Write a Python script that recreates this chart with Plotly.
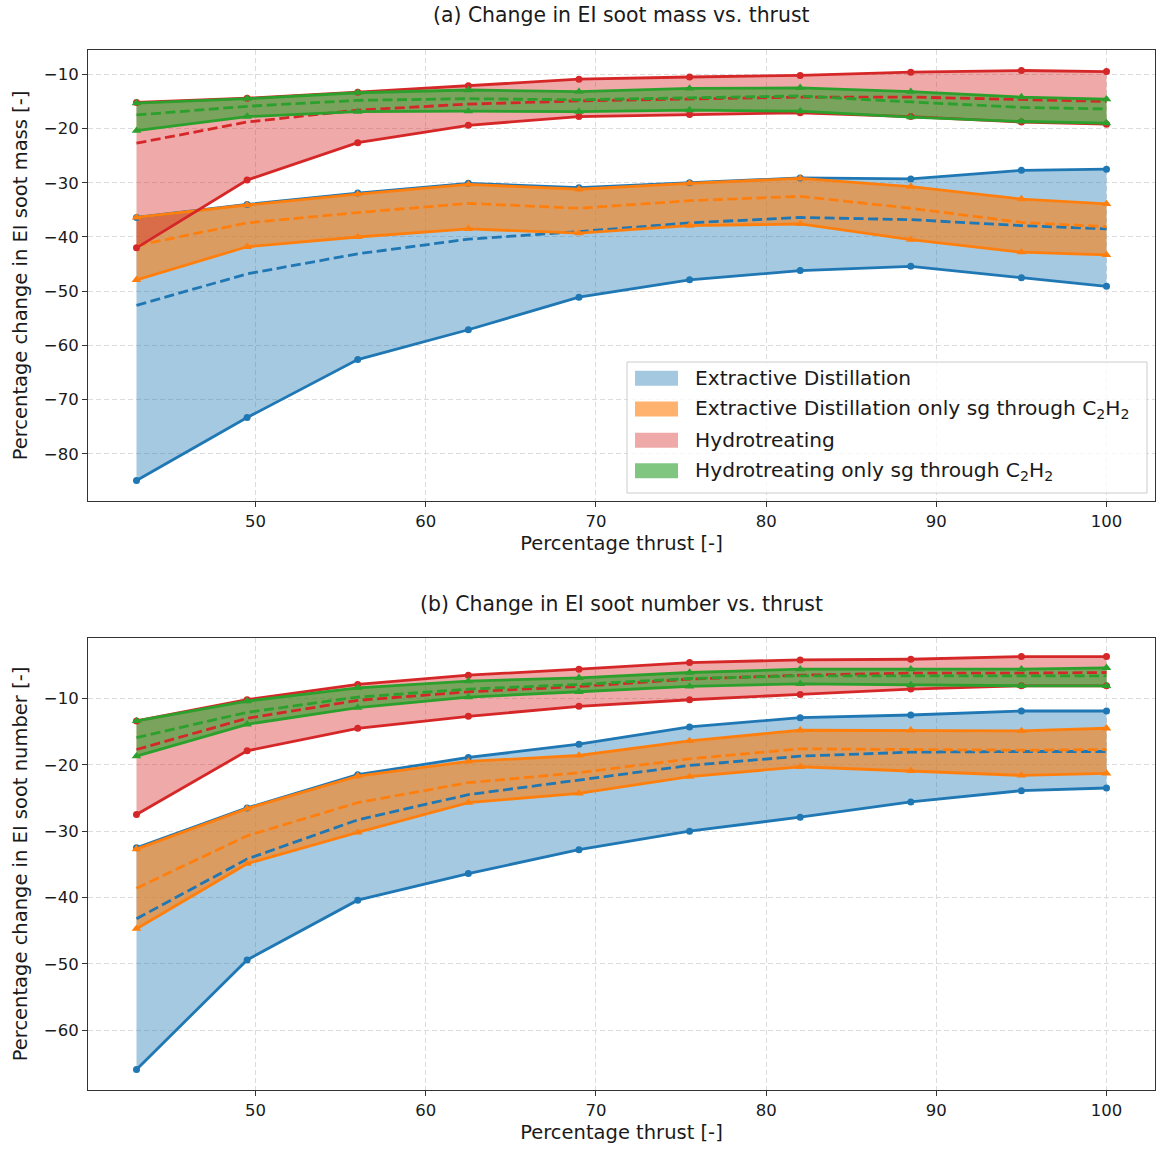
import plotly.graph_objects as go
from plotly.subplots import make_subplots

# ---------------- data ----------------
thrust = [43, 49.5, 56, 62.5, 69, 75.5, 82, 88.5, 95, 100]

# (a) EI soot mass change [%]
ed_mass_max = [-36.4, -34.0, -31.9, -30.1, -30.9, -30.0, -29.1, -29.3, -27.7, -27.5]
ed_mass_mean = [-52.6, -46.8, -43.1, -40.4, -39.0, -37.4, -36.4, -36.8, -37.9, -38.5]
ed_mass_min = [-84.9, -73.3, -62.6, -57.1, -51.1, -47.9, -46.2, -45.4, -47.5, -49.1]

edc_mass_max = [-36.4, -34.1, -32.1, -30.3, -31.2, -30.1, -29.2, -30.7, -33.0, -33.9]
edc_mass_mean = [-41.6, -37.4, -35.5, -33.8, -34.7, -33.3, -32.5, -34.7, -37.3, -38.1]
edc_mass_min = [-47.9, -41.8, -40.0, -38.5, -39.3, -37.9, -37.6, -40.5, -42.8, -43.3]

ht_mass_max = [-15.2, -14.4, -13.3, -12.1, -10.9, -10.5, -10.2, -9.6, -9.3, -9.5]
ht_mass_mean = [-22.7, -18.8, -16.6, -15.5, -14.9, -14.5, -14.2, -14.2, -14.7, -15.0]
ht_mass_min = [-42.0, -29.5, -22.6, -19.4, -17.8, -17.4, -17.1, -17.8, -18.8, -19.2]

htc_mass_max = [-15.3, -14.5, -13.4, -12.9, -13.2, -12.6, -12.5, -13.2, -14.2, -14.6]
htc_mass_mean = [-17.5, -15.9, -14.8, -14.5, -14.7, -14.3, -14.0, -15.1, -16.1, -16.4]
htc_mass_min = [-20.4, -17.8, -16.9, -16.8, -16.9, -16.6, -16.8, -17.9, -18.7, -19.0]

# (b) EI soot number change [%]
ed_num_max = [-32.5, -26.5, -21.5, -18.9, -16.9, -14.3, -12.9, -12.5, -11.9, -11.9]
ed_num_mean = [-43.2, -34.2, -28.3, -24.5, -22.3, -20.1, -18.7, -18.1, -18.0, -18.0]
ed_num_min = [-65.9, -49.4, -40.4, -36.4, -32.8, -30.0, -27.9, -25.6, -23.9, -23.5]

edc_num_max = [-32.7, -26.6, -21.7, -19.5, -18.6, -16.4, -14.8, -14.8, -14.9, -14.5]
edc_num_mean = [-38.6, -30.7, -25.7, -22.7, -21.2, -19.1, -17.6, -17.7, -17.8, -17.7]
edc_num_min = [-44.7, -34.9, -30.2, -25.7, -24.3, -21.8, -20.3, -20.9, -21.6, -21.3]

ht_num_max = [-13.4, -10.2, -7.9, -6.5, -5.6, -4.6, -4.2, -4.1, -3.7, -3.7]
ht_num_mean = [-17.7, -13.0, -10.3, -9.0, -8.2, -7.1, -6.5, -6.2, -6.2, -6.1]
ht_num_min = [-27.5, -17.9, -14.5, -12.7, -11.2, -10.2, -9.4, -8.6, -8.1, -8.1]

htc_num_max = [-13.4, -10.4, -8.4, -7.4, -6.9, -6.1, -5.6, -5.6, -5.6, -5.4]
htc_num_mean = [-15.9, -12.1, -9.8, -8.6, -7.9, -7.0, -6.6, -6.6, -6.6, -6.6]
htc_num_min = [-18.7, -13.9, -11.4, -9.8, -9.0, -8.2, -7.8, -8.0, -8.1, -8.1]

series_labels = [
    "Extractive Distillation",
    "Extractive Distillation only sg through C<sub>2</sub>H<sub>2</sub>",
    "Hydrotreating",
    "Hydrotreating only sg through C<sub>2</sub>H<sub>2</sub>",
]
x_ticks = [50, 60, 70, 80, 90, 100]
mass_ticks = [-10, -20, -30, -40, -50, -60, -70, -80]
num_ticks = [-10, -20, -30, -40, -50, -60]

# ---------------- styles ----------------
line_colors = ["#1f77b4", "#ff7f0e", "#d62728", "#2ca02c"]
fill_colors = ["rgba(31,119,180,0.4)", "rgba(255,127,14,0.6)",
               "rgba(214,39,40,0.4)", "rgba(44,160,44,0.6)"]
legend_patch = ["#a5c8e1", "#ffb26e", "#efa9a9", "#80c680"]
symbols = ["circle", "triangle-up", "circle", "triangle-up"]
msizes = [7, 8.5, 7, 8.5]
FONT = "DejaVu Sans"
LW = 2.8

mass_groups = [
    (ed_mass_max, ed_mass_mean, ed_mass_min),
    (edc_mass_max, edc_mass_mean, edc_mass_min),
    (ht_mass_max, ht_mass_mean, ht_mass_min),
    (htc_mass_max, htc_mass_mean, htc_mass_min),
]
num_groups = [
    (ed_num_max, ed_num_mean, ed_num_min),
    (edc_num_max, edc_num_mean, edc_num_min),
    (ht_num_max, ht_num_mean, ht_num_min),
    (htc_num_max, htc_num_mean, htc_num_min),
]

fig = make_subplots(rows=2, cols=1)


def add_fill(row, i, upper, lower):
    fig.add_trace(go.Scatter(
        x=list(thrust) + list(thrust)[::-1],
        y=list(upper) + list(lower)[::-1],
        fill="toself", fillcolor=fill_colors[i], mode="lines",
        line=dict(width=0), hoverinfo="skip", showlegend=False),
        row=row, col=1)


def add_lines(row, i, upper, mean, lower):
    for arr in (upper, lower):
        fig.add_trace(go.Scatter(
            x=thrust, y=arr, mode="lines+markers",
            line=dict(color=line_colors[i], width=LW),
            marker=dict(symbol=symbols[i], size=msizes[i], color=line_colors[i],
                        line=dict(width=0)),
            showlegend=False), row=row, col=1)
    fig.add_trace(go.Scatter(
        x=thrust, y=mean, mode="lines",
        line=dict(color=line_colors[i], width=LW, dash="10px,4.5px"),
        showlegend=False), row=row, col=1)


for row, groups in ((1, mass_groups), (2, num_groups)):
    for i, (u, m, l) in enumerate(groups):
        add_fill(row, i, u, l)
    for i, (u, m, l) in enumerate(groups):
        add_lines(row, i, u, m, l)

# ---------------- axes ----------------
W, H = 1156, 1152
ML, MR, MT, MB = 88, 1, 50, 62
PH = H - MT - MB  # 1040
ya_dom = [1 - 451 / PH, 1.0]
yb_dom = [0.0, 1 - 588 / PH]

axis_common = dict(
    showline=True, linecolor="#333", linewidth=1, mirror=True,
    ticks="outside", ticklen=5, tickwidth=1, tickcolor="#333",
    showgrid=True, gridcolor="#dcdcdc", gridwidth=1, griddash="5px,3px",
    zeroline=False, tickfont=dict(family=FONT, size=16.5, color="#1a1a1a"),
)

xrange_ = [40.15, 102.85]
fig.update_xaxes(**axis_common, range=xrange_, tickvals=x_ticks,
                 title=dict(text="Percentage thrust [-]",
                            font=dict(family=FONT, size=19.5, color="#1a1a1a"),
                            standoff=6))
fig.update_yaxes(**axis_common)
fig.update_layout(
    yaxis=dict(domain=ya_dom, range=[-88.68, -5.52], tickvals=mass_ticks,
               title=dict(text="Percentage change in EI soot mass [-]",
                          font=dict(family=FONT, size=19.5, color="#1a1a1a"),
                          standoff=11)),
    yaxis2=dict(domain=yb_dom, range=[-69.0, -0.9], tickvals=num_ticks,
                title=dict(text="Percentage change in EI soot number [-]",
                           font=dict(family=FONT, size=19.5, color="#1a1a1a"),
                           standoff=11)),
)

# ---------------- titles ----------------
annotations = [
    dict(text="(a) Change in EI soot mass vs. thrust", xref="paper", yref="paper",
         x=0.5, y=(1090 - 15) / PH, xanchor="center", yanchor="middle",
         showarrow=False, font=dict(family=FONT, size=20.4, color="#1a1a1a")),
    dict(text="(b) Change in EI soot number vs. thrust", xref="paper", yref="paper",
         x=0.5, y=(1090 - 604) / PH, xanchor="center", yanchor="middle",
         showarrow=False, font=dict(family=FONT, size=20.4, color="#1a1a1a")),
]

# ---------------- legend (in panel a) ----------------
pw, ph = 1067.0, 451.0
shapes = [dict(type="rect", xref="x domain", yref="y domain",
               x0=(627 - 88) / pw, x1=(1147 - 88) / pw,
               y0=(501 - 493) / ph, y1=(501 - 362) / ph,
               fillcolor="rgba(255,255,255,0.8)",
               line=dict(color="#cccccc", width=1), layer="above")]
row_y = [378.3, 409.0, 440.3, 470.7]
for k, lab in enumerate(series_labels):
    yc = (501 - row_y[k]) / ph
    shapes.append(dict(type="rect", xref="x domain", yref="y domain",
                       x0=(635 - 88) / pw, x1=(678 - 88) / pw,
                       y0=yc - 7.5 / ph, y1=yc + 7.5 / ph,
                       fillcolor=legend_patch[k], line=dict(width=0), layer="above"))
    annotations.append(dict(text=lab, xref="x domain", yref="y domain",
                            x=(693 - 88) / pw, y=yc, xanchor="left", yanchor="middle",
                            showarrow=False,
                            font=dict(family=FONT, size=20.2, color="#1a1a1a")))

fig.update_layout(
    width=W, height=H,
    margin=dict(l=ML, r=MR, t=MT, b=MB),
    paper_bgcolor="white", plot_bgcolor="white",
    showlegend=False,
    font=dict(family=FONT, color="#1a1a1a"),
    annotations=annotations, shapes=shapes,
)

fig.write_html("out.html")
